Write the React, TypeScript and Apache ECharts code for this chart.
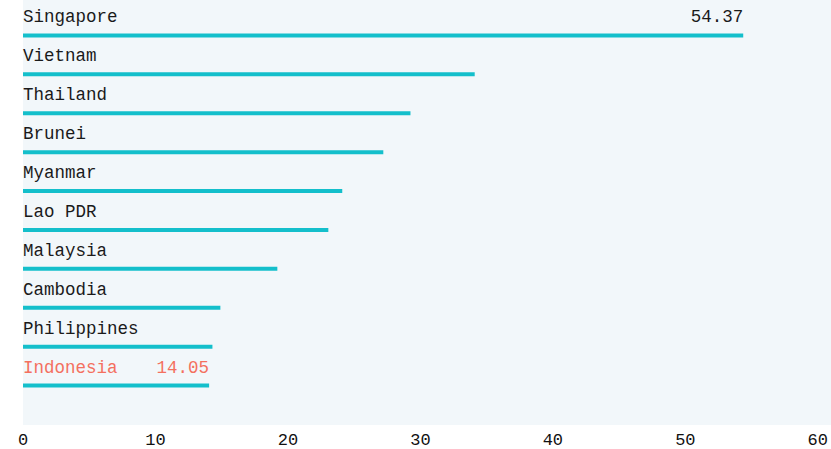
import React, { useEffect, useRef } from "react";
import * as echarts from "echarts";

const countries = ["Singapore", "Vietnam", "Thailand", "Brunei", "Myanmar", "Lao PDR", "Malaysia", "Cambodia", "Philippines", "Indonesia"];
const values = [54.37, 34.1, 29.25, 27.2, 24.1, 23.05, 19.2, 14.9, 14.3, 14.05];
const shownValues = ["54.37", "", "", "", "", "", "", "", "", "14.05"];
const highlight = "Indonesia";
const xTicks = [0, 10, 20, 30, 40, 50, 60];

export default function App() {
  const ref = useRef<HTMLDivElement>(null);
  useEffect(() => {
    const chart = echarts.init(ref.current!, null, { renderer: "svg" });
    const font = "'Liberation Mono', 'DejaVu Sans Mono', monospace";
    chart.setOption({
      animation: false,
      graphic: [{ type: "rect", z: -10, shape: { x: 23, y: 0, width: 808, height: 425 }, style: { fill: "#f2f7fa" } }],
      grid: { left: 23, right: 12, top: 16, bottom: 449 - 407 },
      xAxis: {
        type: "value", min: 0, max: 60, interval: 10,
        splitLine: { show: false }, axisLine: { show: false }, axisTick: { show: false },
        axisLabel: { margin: 27, fontFamily: font, fontSize: 17, color: "#111",
          formatter: (v: number) => (xTicks.includes(v) ? String(v) : "") },
      },
      yAxis: { type: "category", data: countries, inverse: true, show: false },
      series: [
        {
          type: "bar",
          data: values.map((v, i) => ({ value: v, label: { color: countries[i] === highlight ? "#f4705f" : "#1a1a1a" } })),
          barWidth: 4, itemStyle: { color: "#14bfcb" },
          label: {
            show: true, position: [0, -7], align: "left", verticalAlign: "bottom",
            fontFamily: font, fontSize: 17.5,
            formatter: (p: any) => p.name,
          },
        },
        {
          type: "bar", data: values.map((v, i) => ({ value: v, label: { color: countries[i] === highlight ? "#f4705f" : "#1a1a1a" } })),
          barWidth: 4, barGap: "-100%", itemStyle: { color: "transparent" }, silent: true,
          label: {
            show: true, position: ["100%", -7], align: "right", verticalAlign: "bottom",
            fontFamily: font, fontSize: 17.5,
            formatter: (p: any) => shownValues[p.dataIndex],
          },
        },
      ],
    });
    return () => chart.dispose();
  }, []);
  return <div ref={ref} style={{ position: "absolute", left: 0, top: 0, width: 831, height: 449 }} />;
}
